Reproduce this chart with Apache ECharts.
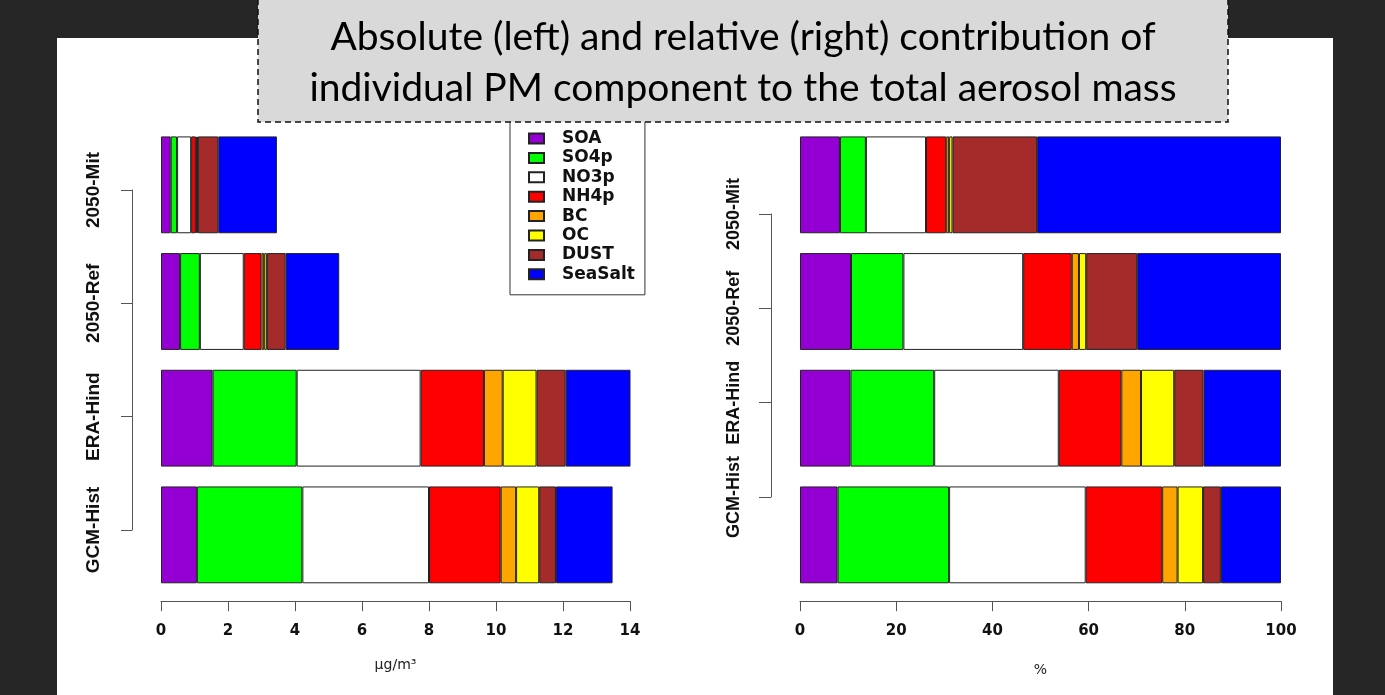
<!DOCTYPE html>
<html><head><meta charset="utf-8">
<script src="https://cdn.jsdelivr.net/npm/echarts@6/dist/echarts.min.js"></script>
<style>html,body{margin:0;padding:0;background:#262626}#c{width:1385px;height:695px}</style>
</head><body><div id="c"></div>
<script>
// Categories bottom -> top
const categories = ['GCM-Hist', 'ERA-Hind', '2050-Ref', '2050-Mit'];
const componentNames = ['SOA', 'SO4p', 'NO3p', 'NH4p', 'BC', 'OC', 'DUST', 'SeaSalt'];
const componentColors = ['#9400D3', '#00FF00', '#FFFFFF', '#FF0000', '#FFA500', '#FFFF00', '#A52A2A', '#0000FF'];

// Absolute contribution (ug/m3)
const absSOA     = [1.07, 1.54, 0.57, 0.29];
const absSO4p    = [3.15, 2.51, 0.59, 0.19];
const absNO3p    = [3.78, 3.70, 1.31, 0.42];
const absNH4p    = [2.14, 1.89, 0.53, 0.14];
const absBC      = [0.46, 0.56, 0.08, 0.03];
const absOC      = [0.69, 1.01, 0.08, 0.03];
const absDUST    = [0.50, 0.87, 0.56, 0.61];
const absSeaSalt = [1.69, 2.32, 1.60, 1.75];

// Relative contribution (%)
const relSOA     = [7.8, 10.5, 10.6, 8.3];
const relSO4p    = [23.2, 17.4, 10.9, 5.4];
const relNO3p    = [28.4, 25.9, 24.9, 12.5];
const relNH4p    = [15.9, 13.0, 10.1, 4.2];
const relBC      = [3.2, 4.1, 1.5, 0.6];
const relOC      = [5.3, 6.9, 1.5, 0.7];
const relDUST    = [3.7, 6.1, 10.6, 17.6];
const relSeaSalt = [12.5, 16.1, 29.9, 50.7];

const absTickMin = 0, absTickMax = 14, absTickStep = 2;
const relTickMin = 0, relTickMax = 100, relTickStep = 20;

const absData = [absSOA, absSO4p, absNO3p, absNH4p, absBC, absOC, absDUST, absSeaSalt];
const relData = [relSOA, relSO4p, relNO3p, relNH4p, relBC, relOC, relDUST, relSeaSalt];

const series = [];
componentNames.forEach((n, i) => {
  series.push({
    name: n, type: 'bar', stack: 'abs', xAxisIndex: 0, yAxisIndex: 0,
    data: absData[i], barCategoryGap: '17%',
    itemStyle: { color: componentColors[i], borderColor: '#222', borderWidth: 1 }
  });
});
componentNames.forEach((n, i) => {
  series.push({
    name: n, type: 'bar', stack: 'rel', xAxisIndex: 1, yAxisIndex: 1,
    data: relData[i], barCategoryGap: '17%',
    itemStyle: { color: componentColors[i], borderColor: '#222', borderWidth: 1 }
  });
});

const axisCol = '#555';
const tickLabel = { fontFamily: 'DejaVu Sans', fontWeight: 'bold', fontSize: 15, color: '#111', margin: 22 };
const catLabel = { rotate: 90, interval: 0, fontFamily: 'Liberation Sans', fontWeight: 'bold', fontSize: 19, color: '#111', margin: 29 };

const chart = echarts.init(document.getElementById('c'));
chart.setOption({
  backgroundColor: '#262626',
  animation: false,
  graphic: [
    { type: 'rect', z: -10, silent: true, shape: { x: 57, y: 38, width: 1276, height: 660 }, style: { fill: '#ffffff' } },
    { type: 'rect', z: 100, silent: true, shape: { x: 258, y: -1, width: 970, height: 123 },
      style: { fill: '#d9d9d9', stroke: '#111', lineWidth: 1.5, lineDash: [6, 4] } },
    { type: 'text', z: 101, silent: true, x: 743, y: 37,
      style: { text: 'Absolute (left) and relative (right) contribution of', font: '39px Lato', fill: '#000', textAlign: 'center', textVerticalAlign: 'middle' } },
    { type: 'text', z: 101, silent: true, x: 743, y: 88,
      style: { text: 'individual PM component to the total aerosol mass', font: '39px Lato', fill: '#000', textAlign: 'center', textVerticalAlign: 'middle' } }
  ],
  legend: {
    data: componentNames, orient: 'vertical', left: 510, top: 121,
    itemWidth: 15, itemHeight: 10, itemGap: 2.4, icon: 'rect',
    padding: [9, 10, 12, 18], borderColor: '#333', borderWidth: 1, backgroundColor: '#fff',
    selectedMode: false,
    textStyle: { fontFamily: 'DejaVu Sans', fontWeight: 'bold', fontSize: 17, color: '#111', lineHeight: 17, padding: [0, 0, 0, 13] }
  },
  grid: [
    { left: 161, top: 126.5, width: 469, height: 466.7 },
    { left: 800, top: 126.5, width: 481, height: 466.7 },
    { left: 132, top: 190, width: 10, height: 340 },
    { left: 771, top: 214, width: 10, height: 283 }
  ],
  xAxis: [
    { gridIndex: 0, type: 'value', min: absTickMin, max: absTickMax, interval: absTickStep, offset: 8,
      axisLine: { show: true, lineStyle: { color: axisCol } }, axisTick: { show: true, length: 10, lineStyle: { color: axisCol } },
      splitLine: { show: false }, axisLabel: tickLabel,
      name: 'μg/m³', nameLocation: 'middle', nameGap: 57, nameTextStyle: { fontFamily: 'DejaVu Sans', fontSize: 14, color: '#222' } },
    { gridIndex: 1, type: 'value', min: relTickMin, max: relTickMax, interval: relTickStep, offset: 8,
      axisLine: { show: true, lineStyle: { color: axisCol } }, axisTick: { show: true, length: 10, lineStyle: { color: axisCol } },
      splitLine: { show: false }, axisLabel: tickLabel,
      name: '%', nameLocation: 'middle', nameGap: 62, nameTextStyle: { fontFamily: 'DejaVu Sans', fontSize: 14, color: '#222' } },
    { gridIndex: 2, type: 'value', show: false },
    { gridIndex: 3, type: 'value', show: false }
  ],
  yAxis: [
    { gridIndex: 0, type: 'category', data: categories, show: false },
    { gridIndex: 1, type: 'category', data: categories, show: false },
    { gridIndex: 2, type: 'category', data: categories, boundaryGap: false,
      axisLine: { show: true, lineStyle: { color: axisCol } }, axisTick: { show: true, interval: 0, length: 11, lineStyle: { color: axisCol } },
      splitLine: { show: false }, axisLabel: catLabel },
    { gridIndex: 3, type: 'category', data: categories, boundaryGap: false,
      axisLine: { show: true, lineStyle: { color: axisCol } }, axisTick: { show: true, interval: 0, length: 12, lineStyle: { color: axisCol } },
      splitLine: { show: false }, axisLabel: Object.assign({}, catLabel, { margin: 28, fontSize: 18 }) }
  ],
  series: series
});
</script></body></html>
